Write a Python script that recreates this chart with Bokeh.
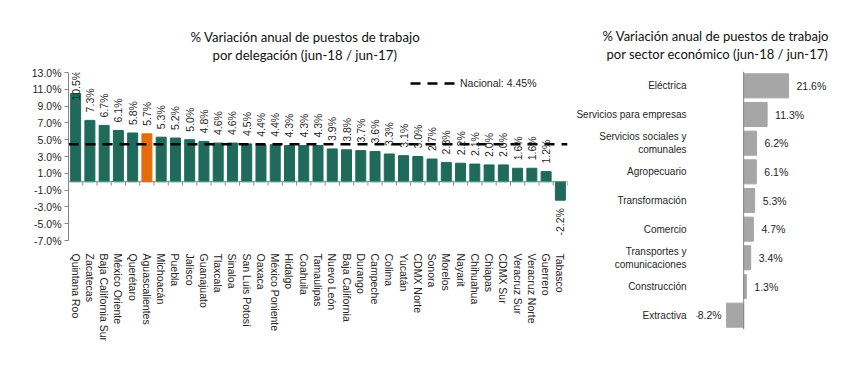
from math import pi
from bokeh.plotting import figure
from bokeh.models import (ColumnDataSource, FactorRange, Range1d, FixedTicker,
                          PrintfTickFormatter, Span, Title, Legend, LegendItem)
from bokeh.layouts import row
from bokeh.embed import file_html
from bokeh.resources import INLINE
from bokeh.core.properties import value

# ---------------- data ----------------
delegaciones = ["Quintana Roo", "Zacatecas", "Baja California Sur", "México Oriente",
                "Querétaro", "Aguascalientes", "Michoacán", "Puebla", "Jalisco",
                "Guanajuato", "Tlaxcala", "Sinaloa", "San Luis Potosí", "Oaxaca",
                "México Poniente", "Hidalgo", "Coahuila", "Tamaulipas", "Nuevo León",
                "Baja California", "Durango", "Campeche", "Colima", "Yucatán",
                "CDMX Norte", "Sonora", "Morelos", "Nayarit", "Chihuahua", "Chiapas",
                "CDMX Sur", "Veracruz Sur", "Veracruz Norte", "Guerrero", "Tabasco"]
variacion = [10.5, 7.3, 6.7, 6.1, 5.8, 5.7, 5.3, 5.2, 5.0, 4.8, 4.6, 4.6, 4.5, 4.4,
             4.4, 4.3, 4.3, 4.3, 3.9, 3.8, 3.7, 3.6, 3.3, 3.1, 3.0, 2.7, 2.3, 2.2,
             2.1, 2.0, 2.0, 1.6, 1.6, 1.2, -2.2]
destacada = "Aguascalientes"
nacional = 4.45
y_ticks = [-7, -5, -3, -1, 1, 3, 5, 7, 9, 11, 13]

sectores = ["Eléctrica", "Servicios para empresas", "Servicios sociales y\ncomunales",
            "Agropecuario", "Transformación", "Comercio",
            "Transportes y\ncomunicaciones", "Construcción", "Extractiva"]
variacion_sector = [21.6, 11.3, 6.2, 6.1, 5.3, 4.7, 3.4, 1.3, -8.2]

titulo_izq = ["% Variación anual de puestos de trabajo", "por delegación (jun-18 / jun-17)"]
titulo_der = ["% Variación anual de puestos de trabajo", "por sector económico (jun-18 / jun-17)"]

# ---------------- style ----------------
NARROW = "Liberation Sans"
FS = "10.5px"
TFONT = "Lato"
TFS = "13.2px"
GREEN = "#1F6A5B"
ORANGE = "#E46C0A"
GRAY = "#A6A6A6"
AXIS = "#868686"
TXT = "#262626"


def fmt(v):
    return "%.1f%%" % v


def no_align(fig):
    try:
        fig.frame_align = False
    except Exception:
        pass


def add_titles(fig, lines, offsets, size=TFS):
    # spacer nearest the frame, then the two title lines
    fig.add_layout(Title(text=" ", text_font_size="2px", standoff=6), "above")
    for txt, off in [(lines[1], offsets[1]), (lines[0], offsets[0])]:
        fig.add_layout(Title(text=txt, align="left", offset=off, standoff=0,
                             text_font=TFONT, text_font_size=size,
                             text_font_style="normal", text_color="#111111"), "above")


# ---------------- left chart ----------------
colors = [ORANGE if d == destacada else GREEN for d in delegaciones]
src = ColumnDataSource(dict(x=delegaciones, top=variacion, color=colors))

p = figure(x_range=FactorRange(factors=delegaciones), y_range=Range1d(-7, 13),
           width=573, height=353, output_backend="svg", toolbar_location=None,
           min_border_left=68, min_border_right=6, min_border_top=72,
           min_border_bottom=113)
no_align(p)
p.vbar(x="x", top="top", width=0.7, color="color", source=src)

p.add_layout(Span(location=0, dimension="width", line_color=AXIS, line_width=1))
bounds = list(range(len(delegaciones) + 1))
p.segment(x0=bounds, y0=[0] * len(bounds), x1=bounds, y1=[-0.45] * len(bounds),
          line_color=AXIS, line_width=1)

nac = p.line(x=[0, len(delegaciones)], y=[nacional, nacional], line_color="black",
             line_width=2.5, line_dash="10 7")

pos = [(d, v) for d, v in zip(delegaciones, variacion) if v >= 0]
neg = [(d, v) for d, v in zip(delegaciones, variacion) if v < 0]
p.text(x=[d for d, v in pos], y=[min(v, 13 - 4.3) for d, v in pos],
       text=[fmt(v) for d, v in pos], angle=pi / 2, text_align="left",
       text_baseline="middle", y_offset=-8, text_font=value(NARROW),
       text_font_size=FS, text_color=TXT)
p.text(x=[d for d, v in neg], y=[v for d, v in neg],
       text=[fmt(v) for d, v in neg], angle=pi / 2, text_align="right",
       text_baseline="middle", y_offset=8, text_font=value(NARROW),
       text_font_size=FS, text_color=TXT)

legend = Legend(items=[LegendItem(label="Nacional: %.2f%%" % nacional, renderers=[nac])],
                location=(342, 150), padding=0, margin=0, glyph_width=45,
                glyph_height=14, label_height=14, label_standoff=5,
                background_fill_alpha=0, border_line_color=None,
                label_text_font=NARROW, label_text_font_size=FS,
                label_text_color=TXT)
p.add_layout(legend)

p.xaxis.major_label_orientation = "vertical"
p.xaxis.axis_line_color = None
p.xaxis.major_tick_line_color = None
p.xaxis.major_label_standoff = 7
p.xaxis.major_label_text_font = NARROW
p.xaxis.major_label_text_font_size = FS
p.xaxis.major_label_text_color = TXT

p.yaxis.ticker = FixedTicker(ticks=y_ticks)
p.yaxis.formatter = PrintfTickFormatter(format="%.1f%%")
p.yaxis.axis_line_color = AXIS
p.yaxis.major_tick_line_color = AXIS
p.yaxis.major_tick_out = 4
p.yaxis.major_tick_in = 0
p.yaxis.minor_tick_line_color = None
p.yaxis.major_label_standoff = 3
p.yaxis.major_label_text_font = NARROW
p.yaxis.major_label_text_font_size = FS
p.yaxis.major_label_text_color = TXT

p.xgrid.grid_line_color = None
p.ygrid.grid_line_color = None
p.outline_line_color = None
add_titles(p, titulo_izq, (122, 144))

# ---------------- right chart ----------------
p2 = figure(y_range=FactorRange(factors=list(reversed(sectores))),
            x_range=Range1d(-22.7, 42.3), width=268, height=353,
            output_backend="svg", toolbar_location=None,
            min_border_left=115, min_border_right=10, min_border_top=71,
            min_border_bottom=24)
no_align(p2)
p2.hbar(y=sectores, left=0, right=variacion_sector, height=0.84, color=GRAY)
p2.add_layout(Span(location=0, dimension="height", line_color=AXIS, line_width=1))

spos = [(s, v) for s, v in zip(sectores, variacion_sector) if v >= 0]
sneg = [(s, v) for s, v in zip(sectores, variacion_sector) if v < 0]
p2.text(x=[v for s, v in spos], y=[s for s, v in spos], text=[fmt(v) for s, v in spos],
        text_align="left", text_baseline="middle", x_offset=8,
        text_font=value(NARROW), text_font_size=FS, text_color=TXT)
p2.text(x=[v for s, v in sneg], y=[s for s, v in sneg], text=[fmt(v) for s, v in sneg],
        text_align="right", text_baseline="middle", x_offset=-5,
        text_font=value(NARROW), text_font_size=FS, text_color=TXT)

p2.xaxis.visible = False
p2.yaxis.axis_line_color = None
p2.yaxis.major_tick_line_color = None
p2.yaxis.minor_tick_line_color = None
p2.yaxis.major_label_standoff = 4
p2.yaxis.major_label_text_font = NARROW
p2.yaxis.major_label_text_font_size = "10px"
p2.yaxis.major_label_text_color = TXT
p2.xgrid.grid_line_color = None
p2.ygrid.grid_line_color = None
p2.outline_line_color = None
add_titles(p2, titulo_der, (-94, -90), "13px")

layout = row(p, p2)
open("out.html", "w").write(file_html(layout, INLINE))
